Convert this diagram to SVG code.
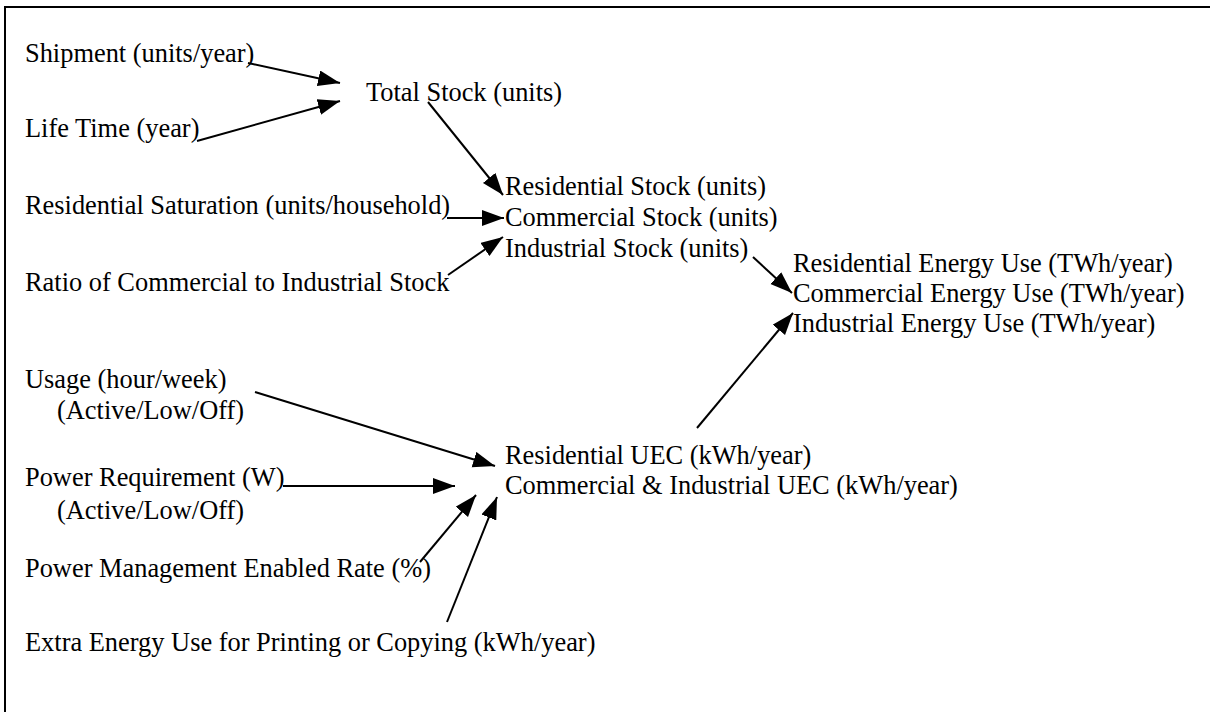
<svg xmlns="http://www.w3.org/2000/svg" width="1210" height="712" viewBox="0 0 1210 712">
<style>
text{font-family:"Liberation Serif","Times New Roman",serif;font-size:26.4px;fill:#000}
.c{stroke:#000;stroke-width:2;fill:none;marker-end:url(#ah)}
.b{stroke:#000;stroke-width:2;fill:none}
</style>
<defs>
<marker id="ah" markerUnits="userSpaceOnUse" markerWidth="24" markerHeight="18" refX="22" refY="8" orient="auto" viewBox="0 0 24 18">
<path d="M0,0 L22,8 L0,16 z" fill="#000"/>
</marker>
</defs>
<rect width="1210" height="712" fill="#fff"/>
<path class="b" d="M5,712 V7 H1210"/>
<g id="shipment"><text x="25" y="62">Shipment (units/year)</text></g>
<g id="lifetime"><text x="25" y="137">Life Time (year)</text></g>
<g id="totalstock"><text x="366" y="101">Total Stock (units)</text></g>
<g id="saturation"><text x="25" y="214">Residential Saturation (units/household)</text></g>
<g id="ratio"><text x="25" y="291">Ratio of Commercial to Industrial Stock</text></g>
<g id="stocks"><text x="505" y="195">Residential Stock (units)</text><text x="505" y="226">Commercial Stock (units)</text><text x="505" y="257">Industrial Stock (units)</text></g>
<g id="energyuse"><text x="793" y="272">Residential Energy Use (TWh/year)</text><text x="793" y="302">Commercial Energy Use (TWh/year)</text><text x="793" y="332">Industrial Energy Use (TWh/year)</text></g>
<g id="usage"><text x="25" y="388">Usage (hour/week)</text><text x="57" y="419">(Active/Low/Off)</text></g>
<g id="power"><text x="25" y="486">Power Requirement (W)</text><text x="57" y="519">(Active/Low/Off)</text></g>
<g id="pm"><text x="25" y="577">Power Management Enabled Rate (%)</text></g>
<g id="extra"><text x="25" y="651">Extra Energy Use for Printing or Copying (kWh/year)</text></g>
<g id="uec"><text x="505" y="464">Residential UEC (kWh/year)</text><text x="505" y="494">Commercial &amp; Industrial UEC (kWh/year)</text></g>
<g id="connectors">
<line class="c" x1="248" y1="63" x2="340" y2="83"/>
<line class="c" x1="197" y1="141" x2="340" y2="101"/>
<line class="c" x1="428" y1="102" x2="503" y2="195"/>
<line class="c" x1="447" y1="218" x2="504" y2="218"/>
<line class="c" x1="448" y1="275" x2="503" y2="237"/>
<line class="c" x1="753" y1="257" x2="792" y2="293"/>
<line class="c" x1="697" y1="428" x2="793" y2="313"/>
<line class="c" x1="255" y1="392" x2="495" y2="466"/>
<line class="c" x1="283" y1="486" x2="455" y2="486"/>
<line class="c" x1="420" y1="562" x2="476" y2="495"/>
<line class="c" x1="447" y1="622" x2="497" y2="497"/>
</g>
</svg>
